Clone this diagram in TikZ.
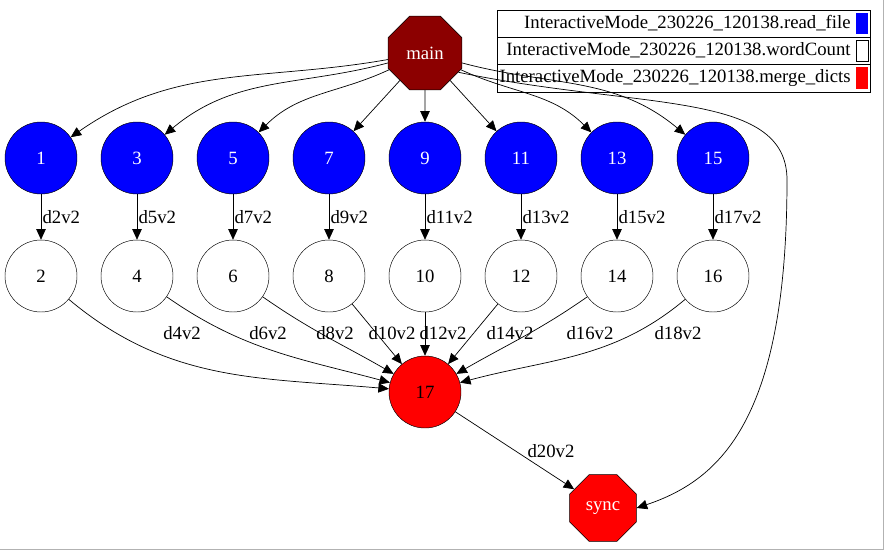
\documentclass[tikz,border=0pt]{standalone}
\usepackage{fontspec}
\setmainfont{Liberation Serif}
\usetikzlibrary{positioning}
\usetikzlibrary{arrows.meta}
\usetikzlibrary{shapes.geometric}

\tikzset{
    task/.style={draw,circle,minimum size=2.16cm,inner sep=0pt,font=\fontsize{16}{16}\selectfont},
    reader/.style={task,fill=blue,text=white},
    counter/.style={task,fill=white},
    octa/.style={draw,regular polygon,regular polygon sides=8,inner sep=0pt,font=\fontsize{16}{16}\selectfont},
    edge/.style={-{Triangle[length=9pt,width=8pt]},line width=0.6pt},
    lab/.style={font=\fontsize{16}{16}\selectfont,inner sep=1pt},
}

\begin{document}
\begin{tikzpicture}[x=0.03cm,y=-0.03cm]
    \useasboundingbox (0,0) rectangle (885,551);
    \draw[gray!60] (0,549) -- (883,549) -- (883,0);
    % legend
    \node[draw,minimum width=11.19cm,minimum height=0.81cm,anchor=north west,inner sep=0pt] (leg1) at (497,10) {};
    \node[draw,minimum width=11.19cm,minimum height=0.81cm,anchor=north west,inner sep=0pt] (leg2) at (497,37) {};
    \node[draw,minimum width=11.19cm,minimum height=0.84cm,anchor=north west,inner sep=0pt] (leg3) at (497,64) {};
    \node[lab,anchor=east] at (852,23) {InteractiveMode\_230226\_120138.read\_file};
    \node[lab,anchor=east] at (852,50) {InteractiveMode\_230226\_120138.wordCount};
    \node[lab,anchor=east] at (852,78) {InteractiveMode\_230226\_120138.merge\_dicts};
    \fill[blue] (856,13) rectangle (868,34);
    \draw (856,40) rectangle (868,61);
    \fill[red] (856,67) rectangle (868,89);
    % nodes
    \node[octa,fill=red!55!black,text=white,minimum size=2.4cm] (main) at (425,53) {main};
    \foreach \i/\x in {1/41,3/137,5/233,7/329,9/425,11/521,13/617,15/713} {
        \node[reader] (n\i) at (\x,158) {\i};
    }
    \foreach \i/\x in {2/41,4/137,6/233,8/329,10/425,12/521,14/617,16/713} {
        \node[counter] (n\i) at (\x,276) {\i};
    }
    \node[task,fill=red] (n17) at (425,392) {17};
    \node[octa,fill=red,text=white,minimum size=2.17cm] (sync) at (603,508) {sync};
    \coordinate (turn) at (787,180);
    % main to readers
    \draw[edge] (main) to[out=190,in=35] (n1);
    \draw[edge] (main) to[out=195,in=40] (n3);
    \draw[edge] (main) to[out=205,in=45] (n5);
    \draw[edge] (main) -- (n7);
    \draw[edge] (main) -- (n9);
    \draw[edge] (main) -- (n11);
    \draw[edge] (main) to[out=-25,in=135] (n13);
    \draw[edge] (main) to[out=-15,in=140] (n15);
    \draw[edge] (main.-30) .. controls (640,110) and (787,90) .. (turn)
        .. controls (787,420) and (720,480) .. (sync.east);
    % readers to counters
    \foreach \a/\b/\d in {1/2/2,3/4/5,5/6/7,7/8/9,9/10/11,11/12/13,13/14/15,15/16/17} {
        \draw[edge] (n\a) -- node[lab,right] {d\d v2} (n\b);
    }
    % counters to merge
    \draw[edge] (n2) to[out=-40,in=175] (n17);
    \draw[edge] (n4) to[out=-35,in=165] (n17);
    \draw[edge] (n6) to[out=-35,in=150] (n17);
    \draw[edge] (n8) -- (n17);
    \draw[edge] (n10) -- (n17);
    \draw[edge] (n12) -- (n17);
    \draw[edge] (n14) to[out=-145,in=30] (n17);
    \draw[edge] (n16) to[out=-140,in=15] (n17);
    \draw[edge] (n17) -- (sync);
    % merge labels
    \foreach \d/\x in {4/182,6/268,8/335,10/392,12/443,14/510,16/590,18/678} {
        \node[lab] (l\d) at (\x,333) {d\d v2};
    }
    \node[lab] (l20) at (551,451) {d20v2};
\end{tikzpicture}
\end{document}
